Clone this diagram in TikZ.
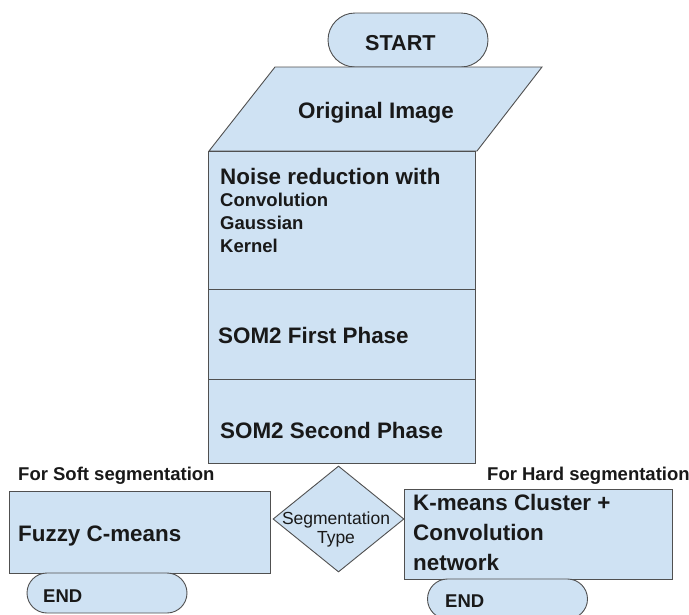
\documentclass[tikz,border=0pt]{standalone}
\usepackage{fontspec}
\setmainfont{Liberation Sans}
\usepackage{tikz}
\usetikzlibrary{calc}
\usetikzlibrary{shapes}
\definecolor{boxfill}{RGB}{207,226,243}
\definecolor{boxline}{RGB}{80,80,80}
\definecolor{ink}{RGB}{25,25,25}
\newcommand{\stage}[5]{ \node[stage, minimum width=#4pt, minimum height=#5pt] (#1) at (#2,#3) {};}
\tikzset{
  stage/.style={draw=boxline, fill=boxfill, line width=0.9pt, inner sep=0pt},
  big/.style={text=ink, inner sep=0pt, font=\fontsize{22.4}{30}\selectfont\bfseries},
  small/.style={text=ink, inner sep=0pt, font=\fontsize{18.5}{23}\selectfont\bfseries},
}

\begin{document}
\begin{tikzpicture}[x=1pt,y=-1pt]
        \useasboundingbox (0,0) rectangle (689,614);
        \fill[white] (0,0) rectangle (689,614);

        % top
        \node[stage, rounded rectangle, minimum width=160pt, minimum height=54pt] (start) at (408,40) {};
        \node[big, font=\fontsize{21.6}{26}\selectfont\bfseries, anchor=base west] (startlbl) at (365,50) {START};
        \draw[stage] (275,67) -- (542,67) -- (477,151) -- (209,151) -- cycle;
        \node[big, anchor=base west] (inputlbl) at (298,118) {Original Image};

        % column
        \stage{noise}{342}{220}{267}{138}
        \stage{somone}{342}{334}{267}{90}
        \stage{somtwo}{342}{421}{267}{84}
        \node[big, anchor=base west] (noiselbl) at (220,184) {Noise reduction with};
        \node[small, anchor=north west, align=left] (noiselist) at (220,193) {Convolution\\Gaussian\\Kernel};
        \node[big, anchor=base west] (somonelbl) at (218,343) {SOM2 First Phase};
        \node[big, anchor=base west] (somtwolbl) at (220,438) {SOM2 Second Phase};

        % decision
        \node[stage, diamond, minimum width=131pt, minimum height=106pt] (segtype) at (338.5,519) {};
        \node[text=ink, inner sep=0pt, anchor=north, align=center,
              font=\fontsize{17.5}{19}\selectfont] (segtypelbl) at (336,512) {Segmentation\\Type};

        % soft side
        \stage{fuzzy}{139.5}{532}{261}{82}
        \node[big, anchor=base west] (fuzzylbl) at (18,541) {Fuzzy C-means};
        \node[small, anchor=base west] (softlbl) at (18,480) {For Soft segmentation};
        \node[stage, rounded rectangle, minimum width=160pt, minimum height=40pt] (endsoft) at (107,593) {};
        \node[small, anchor=base west] (endsoftlbl) at (43,602) {END};

        % hard side
        \stage{kmeans}{538}{534}{268}{90}
        \node[big, anchor=north west, align=left] (kmeanslbl) at (413,494) {K-means Cluster +\\Convolution\\network};
        \node[small, anchor=base west] (hardlbl) at (487,480) {For Hard segmentation};
        \node[stage, rounded rectangle, minimum width=160pt, minimum height=40pt] (endhard) at (507.5,599) {};
        \node[small, anchor=base west] (endhardlbl) at (445,607) {END};
\end{tikzpicture}
\end{document}
